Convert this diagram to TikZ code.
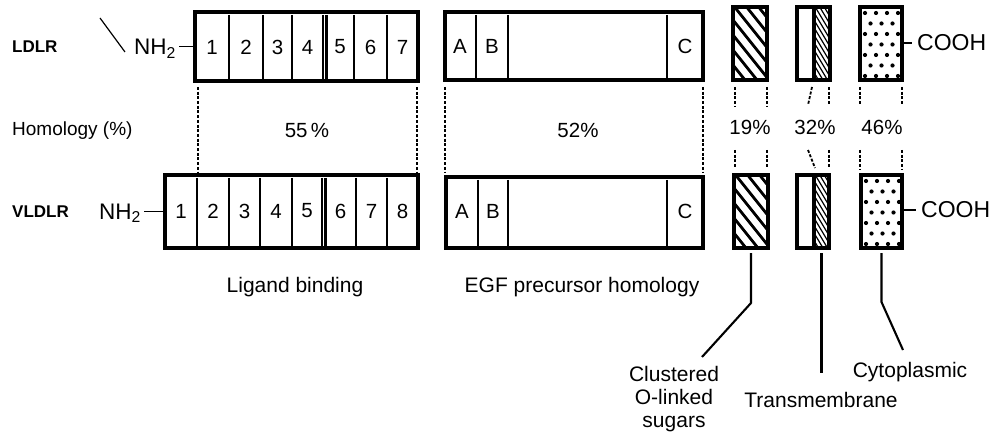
\documentclass[tikz,border=0pt]{standalone}
\usepackage{fontspec}
\setmainfont{Liberation Sans}
\usetikzlibrary{fit,calc}
\begin{document}
\begin{tikzpicture}[x=1pt,y=-1pt,
  box/.style={draw, line width=3.2pt, inner sep=0pt, outer sep=0pt},
  div/.style={line width=2.4pt},
  dline/.style={line width=1.8pt, dash pattern=on 3pt off 1.7pt},
  lead/.style={line width=2.1pt},
  lbl/.style={font=\fontsize{21}{23}\selectfont, inner sep=0pt},
  nh/.style={font=\fontsize{22.5}{24}\selectfont, inner sep=0pt},
  num/.style={font=\fontsize{20.5}{22}\selectfont, inner sep=0pt},
  pct/.style={font=\fontsize{20.5}{22}\selectfont, inner sep=0pt},
  tag/.style={font=\fontsize{17}{19}\selectfont\bfseries, inner sep=0pt},
  coarsehatch/.style={path picture={
    \foreach \k in {-6,...,3}
      \draw[line width=2.8pt] ($(path picture bounding box.north west)+(\k*12,-2)$) -- ++(84,105);}},
  finehatch/.style={path picture={
    \foreach \k in {-12,...,4}
      \draw[line width=1.2pt] ($(path picture bounding box.north west)+(\k*4.5,-2)$) -- ++(48,80);}},
  dotted fill/.style={path picture={
    \foreach \r in {0,2,4,6} \foreach \c in {0,1,2,3}
      \fill ($(path picture bounding box.north west)+(5+\c*11,6+\r*10.5)$) circle (2.1pt);
    \foreach \r in {1,3,5} \foreach \c in {0,1,2}
      \fill ($(path picture bounding box.north west)+(10.5+\c*11,6+\r*10.5)$) circle (2.1pt);}}
]
\fill[white] (0,0) rectangle (1002,441);
\useasboundingbox (0,0) rectangle (1002,441);

% ---------- LDLR ----------
\node[tag, anchor=west] (ldlr) at (12,47) {LDLR};
\coordinate (tickA) at (100,18);
\coordinate (tickB) at (125,52);
\draw[line width=1.2pt] (tickA) -- (tickB);
\node[nh, anchor=base west] (nhA) at (134,55) {NH\textsubscript{2}};

\node[box, fit={(195,12) (418,81)}] (lt) {};
\foreach \x in {229,263,292,323,326.5,354,387}
  \draw[div] (\x,15) -- (\x,79);
\foreach \n/\x in {1/212,2/246,3/277.5,4/307.5,5/340,6/370.5,7/402.5}
  \node[num] (lt\n) at (\x,47) {\n};

\node[box, fit={(445,12) (703,80)}] (et) {};
\foreach \x in {476,508,667}
  \draw[div] (\x,15) -- (\x,78);
\node[pct] (etA) at (460,46) {A};
\node[pct] (etB) at (492,46) {B};
\node[pct] (etC) at (685,46) {C};

\node[box, coarsehatch, fit={(733,7) (767,80)}] (ht) {};
\node[box, fit={(797,7) (830,80)}] (tt) {};
\node[box, finehatch, fit={(814,7) (830,80)}] (tth) {};
\node[box, dotted fill, fit={(860,7) (902,80)}] (ct) {};
\node[lbl, font=\fontsize{23}{25}\selectfont, anchor=west] (coohA) at (917,43) {COOH};

\draw[line width=1.8pt] ([xshift=3pt]nhA.east |- lt.west) -- (lt.west);
\draw[line width=2pt] (ct.east |- coohA.west) -- ([xshift=-5pt]coohA.west);

% ---------- homology ----------
\node[lbl, font=\fontsize{19}{21}\selectfont, anchor=west] (hom) at (12,131) {Homology (\%)};
\node[pct] (p55) at (307,130) {55\,\%};
\node[pct] (p52) at (578,130) {52\%};
\node[pct] (p19) at (750,127) {19\%};
\node[pct] (p32) at (815,127) {32\%};
\node[pct] (p46) at (882,127) {46\%};

% ---------- VLDLR ----------
\node[tag, anchor=west] (vldlr) at (12,212) {VLDLR};
\node[nh, anchor=base west] (nhB) at (99,219) {NH\textsubscript{2}};

\node[box, fit={(165,175) (418,248)}] (lb) {};
\foreach \x in {197,229,260,292,322,325.5,356,387}
  \draw[div] (\x,178) -- (\x,246);
\foreach \n/\x in {1/181,2/213,3/244.5,4/276,5/307,6/340.5,7/371.5,8/402.5}
  \node[num] (lb\n) at (\x,211) {\n};

\node[box, fit={(446,177) (703,248)}] (eb) {};
\foreach \x in {478,508,667}
  \draw[div] (\x,180) -- (\x,246);
\node[pct] (ebA) at (462,211) {A};
\node[pct] (ebB) at (493,211) {B};
\node[pct] (ebC) at (685,211) {C};

\node[box, coarsehatch, fit={(734,175) (768,248)}] (hb) {};
\node[box, fit={(797,175) (829,248)}] (tb) {};
\node[box, finehatch, fit={(814,175) (829,248)}] (tbh) {};
\node[box, dotted fill, fit={(861,175) (902,248)}] (cb) {};
\node[lbl, font=\fontsize{23}{25}\selectfont, anchor=west] (coohB) at (921,210) {COOH};

\draw[line width=1.8pt] ([xshift=3pt]nhB.east |- lb.west) -- (lb.west);
\draw[line width=2pt] (cb.east |- coohB.west) -- ([xshift=-5pt]coohB.west);

% ---------- dashed homology guides ----------
\draw[dline] ($(lt.south west)+(3,6)$) -- ($(lb.north west)+(33,-2)$);
\draw[dline] ($(lt.south east)+(-1,6)$) -- ($(lb.north east)+(-1,-2)$);
\draw[dline] ($(et.south west)+(0,7)$) -- ($(eb.north west)+(-1,-4)$);
\draw[dline] ($(et.south east)+(0,7)$) -- ($(eb.north east)+(0,-4)$);

\draw[dline] ($(ht.south west)+(2,7)$) -- ($(ht.south west)+(2,27)$);
\draw[dline] ($(ht.south east)+(0,7)$) -- ($(ht.south east)+(0,27)$);
\draw[dline] ($(hb.north west)+(1,-25)$) -- ($(hb.north west)+(1,-7)$);
\draw[dline] ($(hb.north east)+(-1,-25)$) -- ($(hb.north east)+(-1,-7)$);

\draw[dline] ($(tth.south west)+(-2,7)$) -- ($(tth.south west)+(-6,25)$);
\draw[dline] ($(tth.south east)+(-1,7)$) -- ($(tth.south east)+(-1,25)$);
\draw[dline] ($(tbh.north west)+(-6,-25)$) -- ($(tbh.north west)+(1,-7)$);
\draw[dline] ($(tbh.north east)+(0,-25)$) -- ($(tbh.north east)+(0,-7)$);

\draw[dline] ($(ct.south west)+(0,7)$) -- ($(ct.south west)+(0,25)$);
\draw[dline] ($(ct.south east)+(0,7)$) -- ($(ct.south east)+(0,25)$);
\draw[dline] ($(cb.north west)+(-1,-25)$) -- ($(cb.north west)+(-1,-5)$);
\draw[dline] ($(cb.north east)+(0,-25)$) -- ($(cb.north east)+(0,-5)$);

% ---------- domain names ----------
\node[lbl] (lig) at (295,287) {Ligand binding};
\node[lbl] (egf) at (582,287) {EGF precursor homology};
\node[lbl, align=center] (sug) at (674,399) {Clustered\\O-linked\\sugars};
\node[lbl] (tms) at (821,400) {Transmembrane};
\node[lbl] (cyt) at (910,372) {Cytoplasmic};

\coordinate (sugEnd) at (702,357);
\coordinate (cytEnd) at (903,350);
\draw[lead] ($(hb.south)+(0,5)$) -- ++(0,50) -- (sugEnd);
\draw[lead] ($(tbh.south)+(0,5)$) -- ($(tbh.south)+(0,125)$);
\draw[lead] ($(cb.south)+(0,5)$) -- ++(0,49) -- (cytEnd);
\end{tikzpicture}
\end{document}
